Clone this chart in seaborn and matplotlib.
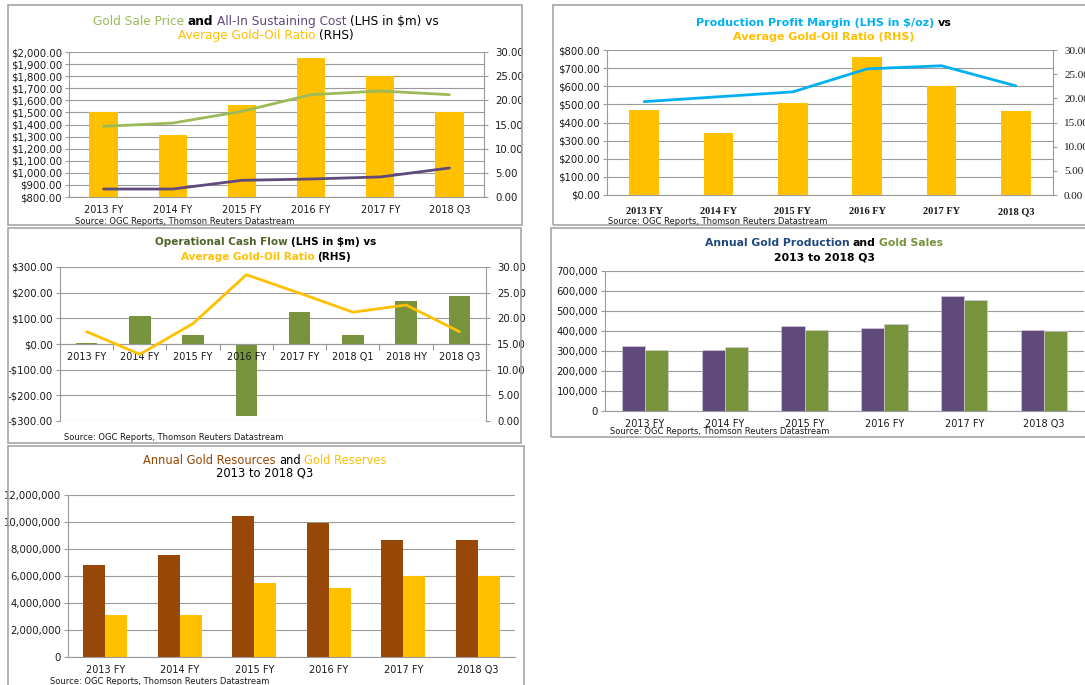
import numpy as np
import pandas as pd
import seaborn as sns
import matplotlib.pyplot as plt
from matplotlib.patches import Rectangle
from matplotlib.ticker import FuncFormatter, MultipleLocator

W, H = 1085, 685

# ---- data ----
periods = ['2013 FY', '2014 FY', '2015 FY', '2016 FY', '2017 FY', '2018 Q3']
periods8 = ['2013 FY', '2014 FY', '2015 FY', '2016 FY', '2017 FY', '2018 Q1', '2018 HY', '2018 Q3']

# chart 1
ratio_c1 = [17.6, 12.9, 19.0, 28.8, 25.1, 17.6]
gold_price = [1385, 1412, 1509, 1647, 1677, 1647]
aisc = [866, 866, 938, 949, 966, 1040]

# chart 2
ratio_c2 = [17.6, 12.8, 18.95, 28.5, 22.6, 17.45]
profit_margin = [515, 542, 569, 696, 713, 602]

# chart 3
cash_flow = [4, 110, 35, -280, 123, 35, 166, 186]
ratio_c3 = [17.4, 13.0, 19.0, 28.5, 24.9, 21.2, 22.6, 17.4]

# chart 4
production = [325000, 307000, 425000, 417000, 575000, 407000]
sales = [303000, 318000, 405000, 437000, 555000, 400000]

# chart 5
resources = [6780000, 7570000, 10470000, 9930000, 8660000, 8660000]
reserves = [3120000, 3090000, 5500000, 5120000, 5990000, 5990000]

SOURCE = 'Source: OGC Reports, Thomson Reuters Datastream'

# colours
GOLD = '#FFC000'
LGREEN = '#9BBB59'
OLIVE = '#77933C'
DOLIVE = '#4F6228'
PURPLE = '#604A7B'
BLUE = '#00B0F0'
NAVY = '#1F497D'
BROWN = '#974706'
GRID = '#9A9A9A'
BORDER = '#A6A6A6'
TXT = '#1A1A1A'

sns.set_style('white')
plt.rcParams['font.family'] = ['DejaVu Sans']

fig = plt.figure(figsize=(W / 100, H / 100), dpi=100)
renderer = fig.canvas.get_renderer()


def px_axes(l, t, r, b):
    return fig.add_axes([l / W, 1 - b / H, (r - l) / W, (b - t) / H])


def box(l, t, r, b):
    fig.add_artist(Rectangle((l / W, 1 - b / H), (r - l) / W, (b - t) / H,
                             transform=fig.transFigure, fill=False, ec=BORDER, lw=1.2))


def title_line(cx, cy, parts, size):
    # several coloured pieces centred on one line
    objs = []
    for s, c, w in parts:
        objs.append(fig.text(0, 0, s, color=c, fontweight=w, fontsize=size, va='center', ha='left'))
    widths = [t.get_window_extent(renderer).width for t in objs]
    gap = size * 100 / 72 * 0.3
    x = cx - (sum(widths) + gap * (len(objs) - 1)) / 2
    for t, wd in zip(objs, widths):
        t.set_position((x / W, 1 - cy / H))
        x += wd + gap


def source(x, y):
    fig.text(x / W, 1 - y / H, SOURCE, fontsize=6, color=TXT, va='center', ha='left')


def base_style(ax, n, left=True):
    for s in ax.spines.values():
        s.set_visible(False)
    ax.spines['bottom'].set_visible(True)
    ax.spines['bottom'].set_color(GRID)
    if left:
        ax.spines['left'].set_visible(True)
        ax.spines['left'].set_color(GRID)
    ax.set_xlim(-0.5, n - 0.5)
    ax.set_xticks(range(n))
    ax.set_xticks(np.arange(-0.5, n), minor=True)
    ax.tick_params(axis='x', which='major', length=0, pad=6, labelsize=7, labelcolor=TXT)
    ax.tick_params(axis='x', which='minor', length=4, color=GRID, direction='out', width=0.8)
    ax.tick_params(axis='y', length=3, color=GRID, labelsize=7.3, pad=2, labelcolor=TXT, left=True)
    ax.set_xlabel('')
    ax.set_ylabel('')
    ax.grid(axis='y', color=GRID, lw=0.8)
    ax.grid(axis='x', visible=False)


def twin_right(ax, lo, hi, step, fmt='{:.2f}', family=None):
    ax.set_ylim(lo, hi)
    ax.yaxis.set_major_locator(MultipleLocator(step))
    ax.yaxis.set_major_formatter(FuncFormatter(lambda v, p: fmt.format(v)))
    for s in ax.spines.values():
        s.set_visible(False)
    ax.spines['right'].set_visible(True)
    ax.spines['right'].set_color(GRID)
    ax.tick_params(axis='y', length=3, color=GRID, labelsize=7.3, pad=5, labelcolor=TXT, right=True)
    if family:
        for lab in ax.get_yticklabels():
            lab.set_family(family)
    ax.set_ylabel('')
    ax.grid(False)


def hide_all(ax):
    for s in ax.spines.values():
        s.set_visible(False)
    ax.set_yticks([])
    ax.set_ylabel('')


def dollars(v, p):
    return f'-${-v:,.2f}' if v < 0 else f'${v:,.2f}'


# ---------------- chart 1 ----------------
box(8, 5, 522, 225)
ax1 = px_axes(69, 52, 484, 197)
ax1.set_ylim(800, 2000)
ax1.yaxis.set_major_locator(MultipleLocator(100))
ax1.yaxis.set_major_formatter(FuncFormatter(dollars))
ax1b = ax1.twinx()
sns.barplot(x=periods, y=ratio_c1, ax=ax1b, color=GOLD, width=0.41, saturation=1, linewidth=0)
ax1c = ax1.twinx()
sns.lineplot(x=np.arange(len(periods)), y=gold_price, ax=ax1c, color=LGREEN, lw=2)
sns.lineplot(x=np.arange(len(periods)), y=aisc, ax=ax1c, color=PURPLE, lw=2)
ax1c.set_ylim(800, 2000)
hide_all(ax1c)
base_style(ax1, len(periods))
ax1.set_xticklabels(periods)
twin_right(ax1b, 0, 30, 5)
title_line(266, 21.5, [('Gold Sale Price', LGREEN, 'normal'), ('and', 'black', 'bold'),
                       ('All-In Sustaining Cost', PURPLE, 'normal'), ('(LHS in $m) vs', 'black', 'normal')], 8.7)
title_line(266, 35, [('Average Gold-Oil Ratio', GOLD, 'normal'), ('(RHS)', 'black', 'normal')], 8.7)
source(75, 221)

# ---------------- chart 2 ----------------
box(553, 5, 1095, 225)
ax2 = px_axes(607, 50, 1053, 195)
ax2.set_ylim(0, 800)
ax2.yaxis.set_major_locator(MultipleLocator(100))
ax2.yaxis.set_major_formatter(FuncFormatter(dollars))
ax2b = ax2.twinx()
sns.barplot(x=periods, y=ratio_c2, ax=ax2b, color=GOLD, width=0.4, saturation=1, linewidth=0)
ax2c = ax2.twinx()
sns.lineplot(x=np.arange(len(periods)), y=profit_margin, ax=ax2c, color=BLUE, lw=2)
ax2c.set_ylim(0, 800)
hide_all(ax2c)
base_style(ax2, len(periods))
ax2.set_xticklabels(periods, family='Liberation Serif', fontweight='bold', fontsize=7.5)
ax2.tick_params(axis='x', which='major', pad=9)
twin_right(ax2b, 0, 30, 5, family='Liberation Serif')
ax2b.tick_params(axis='y', labelsize=8)
title_line(824, 22.5, [('Production Profit Margin (LHS in $/oz)', BLUE, 'bold'), ('vs', 'black', 'bold')], 8.0)
title_line(824, 37, [('Average Gold-Oil Ratio (RHS)', GOLD, 'bold')], 8.0)
source(608, 221)

# ---------------- chart 3 ----------------
box(8, 228, 521, 443)
# bottom layer: grid and dollar labels
ax3 = px_axes(60, 267, 486, 421)
ax3.set_ylim(-300, 300)
ax3.yaxis.set_major_locator(MultipleLocator(100))
ax3.yaxis.set_major_formatter(FuncFormatter(dollars))
base_style(ax3, len(periods8))
ax3.spines['bottom'].set_visible(False)
ax3.tick_params(axis='x', which='both', bottom=False, labelbottom=False)
# middle layer: bars
ax3m = ax3.twinx()
sns.barplot(x=periods8, y=cash_flow, ax=ax3m, color=OLIVE, width=0.4, saturation=1, linewidth=0)
ax3m.set_ylim(-300, 300)
hide_all(ax3m)
ax3m.set_xlabel('')
# category axis on the zero line, drawn over the bars
ax3t = ax3.twinx()
ax3t.set_ylim(-300, 300)
hide_all(ax3t)
ax3t.xaxis.set_visible(True)
ax3t.spines['bottom'].set_visible(True)
ax3t.spines['bottom'].set_color(GRID)
ax3t.spines['bottom'].set_position(('data', 0))
ax3t.set_xlim(-0.5, len(periods8) - 0.5)
ax3t.set_xticks(range(len(periods8)))
ax3t.set_xticklabels(periods8)
ax3t.set_xticks(np.arange(-0.5, len(periods8)), minor=True)
ax3t.tick_params(axis='x', which='major', length=0, pad=6, labelsize=7, labelcolor=TXT, bottom=True, labelbottom=True)
ax3t.tick_params(axis='x', which='minor', length=4, color=GRID, direction='out', width=0.8, bottom=True)
# top layer: ratio line and right labels
ax3b = ax3.twinx()
sns.lineplot(x=np.arange(len(periods8)), y=ratio_c3, ax=ax3b, color=GOLD, lw=2)
twin_right(ax3b, 0, 30, 5)
title_line(266, 242, [('Operational Cash Flow', DOLIVE, 'bold'), ('(LHS in $m) vs', 'black', 'bold')], 7.5)
title_line(266, 257, [('Average Gold-Oil Ratio', GOLD, 'bold'), ('(RHS)', 'black', 'bold')], 7.5)
source(64, 438)

# ---------------- chart 4 ----------------
box(551, 228, 1095, 437)
ax4 = px_axes(605, 271, 1084, 411)
df4 = pd.DataFrame({'period': periods * 2,
                    'oz': production + sales,
                    'series': ['Gold Production'] * len(periods) + ['Gold Sales'] * len(periods)})
sns.barplot(data=df4, x='period', y='oz', hue='series', palette=[PURPLE, OLIVE],
            width=0.58, saturation=1, legend=False, ax=ax4, edgecolor='#D9D2E0', linewidth=0.4)
ax4.set_ylim(0, 700000)
ax4.yaxis.set_major_locator(MultipleLocator(100000))
ax4.yaxis.set_major_formatter(FuncFormatter(lambda v, p: f'{v:,.0f}'))
base_style(ax4, len(periods))
ax4.set_xticklabels(periods)
title_line(824, 243, [('Annual Gold Production', NAVY, 'bold'), ('and', 'black', 'bold'),
                      ('Gold Sales', OLIVE, 'bold')], 7.8)
title_line(824, 258, [('2013 to 2018 Q3', 'black', 'bold')], 7.8)
source(610, 432)

# ---------------- chart 5 ----------------
box(8, 446, 524, 695)
ax5 = px_axes(68, 495, 515, 657)
df5 = pd.DataFrame({'period': periods * 2,
                    'oz': resources + reserves,
                    'series': ['Gold Resources'] * len(periods) + ['Gold Reserves'] * len(periods)})
sns.barplot(data=df5, x='period', y='oz', hue='series', palette=[BROWN, GOLD],
            width=0.585, saturation=1, legend=False, ax=ax5, linewidth=0)
ax5.set_ylim(0, 12000000)
ax5.yaxis.set_major_locator(MultipleLocator(2000000))
ax5.yaxis.set_major_formatter(FuncFormatter(lambda v, p: f'{v:,.0f}'))
base_style(ax5, len(periods))
ax5.set_xticklabels(periods)
title_line(265, 460, [('Annual Gold Resources', BROWN, 'normal'), ('and', 'black', 'normal'),
                      ('Gold Reserves', GOLD, 'normal')], 8.3)
title_line(265, 473.5, [('2013 to 2018 Q3', 'black', 'normal')], 8.3)
source(50, 682)

fig.savefig('out.png', dpi=100, facecolor='white')
